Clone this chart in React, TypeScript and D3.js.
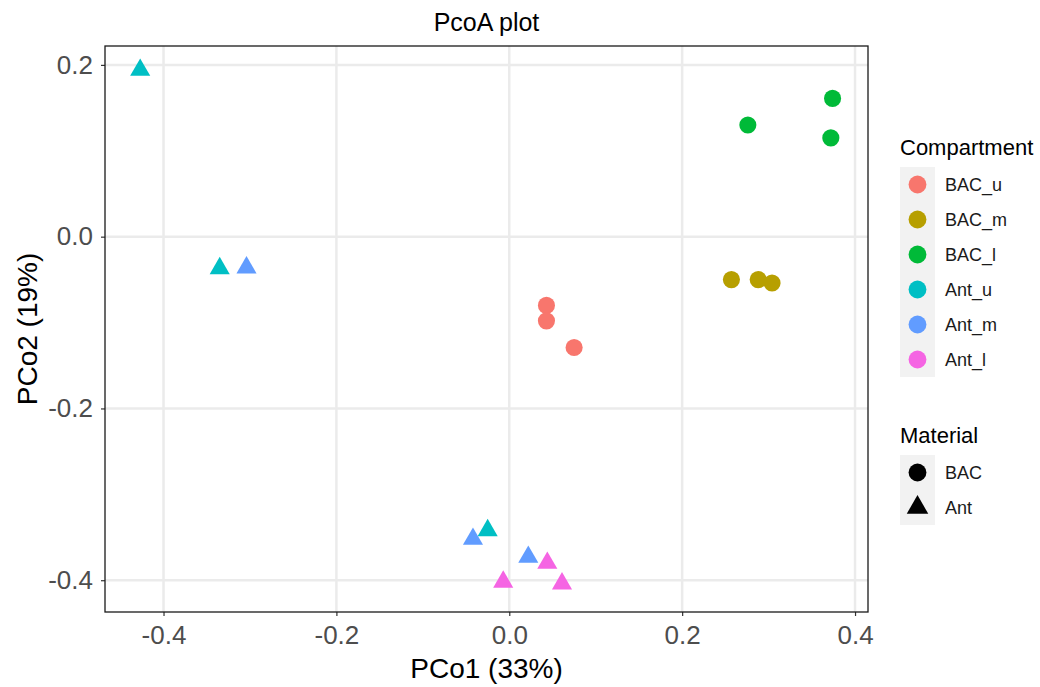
import React, { useEffect, useRef } from "react";
import * as d3 from "d3";

const groups = ["BAC_u", "BAC_m", "BAC_l", "Ant_u", "Ant_m", "Ant_l"];
const groupColors = ["#F8766D", "#B79F00", "#00BA38", "#00BFC4", "#619CFF", "#F564E3"];
const materials = ["BAC", "Ant"];

// one entry per sample: group, PCo1, PCo2
const sampleGroup = [
  "BAC_u", "BAC_u", "BAC_u",
  "BAC_m", "BAC_m", "BAC_m",
  "BAC_l", "BAC_l", "BAC_l",
  "Ant_u", "Ant_u", "Ant_u",
  "Ant_m", "Ant_m", "Ant_m",
  "Ant_l", "Ant_l", "Ant_l",
];
const pco1 = [
  0.043, 0.043, 0.075,
  0.257, 0.288, 0.304,
  0.374, 0.276, 0.372,
  -0.427, -0.335, -0.025,
  -0.304, -0.042, 0.022,
  0.044, -0.007, 0.061,
];
const pco2 = [
  -0.080, -0.098, -0.129,
  -0.050, -0.050, -0.054,
  0.161, 0.130, 0.115,
  0.194, -0.037, -0.342,
  -0.036, -0.352, -0.373,
  -0.380, -0.402, -0.404,
];
const xTicks = [-0.4, -0.2, 0.0, 0.2, 0.4];
const yTicks = [0.2, 0.0, -0.2, -0.4];

const W = 1040;
const H = 687;

const PcoaPlot = () => {
  const svgRef = useRef<SVGSVGElement>(null);

  useEffect(() => {
    const svg = d3.select(svgRef.current);
    svg.selectAll("*").remove();
    const font = "Liberation Sans, Arial, sans-serif";

    const panel = { left: 105, right: 868, top: 46, bottom: 612 };

    const x = d3.scaleLinear().domain([-0.4677, 0.415]).range([panel.left, panel.right]);
    const y = d3.scaleLinear().domain([0.222, -0.437]).range([panel.top, panel.bottom]);
    const color = d3.scaleOrdinal<string, string>().domain(groups).range(groupColors);
    const shape = (g: string) => (g.startsWith("BAC") ? "BAC" : "Ant");

    svg.append("rect").attr("width", W).attr("height", H).attr("fill", "#fff");

    // gridlines
    const grid = svg.append("g");
    grid
      .selectAll(".gx")
      .data(xTicks)
      .enter()
      .append("line")
      .attr("x1", (d) => x(d))
      .attr("x2", (d) => x(d))
      .attr("y1", panel.top)
      .attr("y2", panel.bottom)
      .attr("stroke", "#EBEBEB")
      .attr("stroke-width", 2.5);
    grid
      .selectAll(".gy")
      .data(yTicks)
      .enter()
      .append("line")
      .attr("y1", (d) => y(d))
      .attr("y2", (d) => y(d))
      .attr("x1", panel.left)
      .attr("x2", panel.right)
      .attr("stroke", "#EBEBEB")
      .attr("stroke-width", 2.5);

    // axes
    const xAxis = svg
      .append("g")
      .attr("transform", `translate(0,${panel.bottom})`)
      .call(d3.axisBottom(x).tickValues(xTicks).tickSize(4).tickPadding(8).tickFormat(d3.format(".1f")));
    const yAxis = svg
      .append("g")
      .attr("transform", `translate(${panel.left},0)`)
      .call(d3.axisLeft(y).tickValues(yTicks).tickSize(4).tickPadding(8).tickFormat(d3.format(".1f")));
    [xAxis, yAxis].forEach((a) => {
      a.select(".domain").remove();
      a.selectAll(".tick line").attr("stroke", "#333").attr("stroke-width", 1.2);
      a.selectAll(".tick text")
        .attr("fill", "#4D4D4D")
        .style("font-family", font)
        .style("font-size", "26px");
    });
    xAxis.selectAll(".tick text").attr("dy", "0.75em");
    // d3 uses a real minus sign; keep the hyphen like the reference
    svg.selectAll(".tick text").text((d: any) => d3.format(".1f")(d).replace("−", "-"));

    // panel border
    svg
      .append("rect")
      .attr("x", panel.left)
      .attr("y", panel.top)
      .attr("width", panel.right - panel.left)
      .attr("height", panel.bottom - panel.top)
      .attr("fill", "none")
      .attr("stroke", "#1a1a1a")
      .attr("stroke-width", 1.3);

    // points
    const circle = d3.symbol().type(d3.symbolCircle).size(230);
    const tri = d3.symbol().type(d3.symbolTriangle).size(175);
    svg
      .append("g")
      .selectAll("path")
      .data(sampleGroup.map((g, i) => ({ g, x: pco1[i], y: pco2[i] })))
      .enter()
      .append("path")
      .attr("transform", (d) => `translate(${x(d.x)},${y(d.y)})`)
      .attr("d", (d) => (shape(d.g) === "BAC" ? circle() : tri()))
      .attr("fill", (d) => color(d.g));

    // titles
    svg
      .append("text")
      .attr("x", (panel.left + panel.right) / 2)
      .attr("y", 31)
      .attr("text-anchor", "middle")
      .style("font-family", font)
      .style("font-size", "25px")
      .text("PcoA plot");
    svg
      .append("text")
      .attr("x", (panel.left + panel.right) / 2)
      .attr("y", 678)
      .attr("text-anchor", "middle")
      .style("font-family", font)
      .style("font-size", "28px")
      .text("PCo1 (33%)");
    svg
      .append("text")
      .attr("transform", `translate(37,${(panel.top + panel.bottom) / 2}) rotate(-90)`)
      .attr("text-anchor", "middle")
      .style("font-family", font)
      .style("font-size", "28px")
      .text("PCo2 (19%)");

    // legends
    const lx = 900;
    const keyW = 35;
    const keyH = 35;
    const leg1 = svg.append("g").attr("transform", `translate(${lx},0)`);
    leg1
      .append("text")
      .attr("x", 0)
      .attr("y", 155)
      .style("font-family", font)
      .style("font-size", "22px")
      .text("Compartment");
    leg1
      .append("rect")
      .attr("y", 167)
      .attr("width", keyW)
      .attr("height", keyH * groups.length)
      .attr("fill", "#F2F2F2");
    const circleKey = d3.symbol().type(d3.symbolCircle).size(250);
    groups.forEach((g, i) => {
      const cy = 167 + keyH * i + keyH / 2;
      leg1
        .append("path")
        .attr("transform", `translate(${keyW / 2},${cy})`)
        .attr("d", circleKey())
        .attr("fill", color(g));
      leg1
        .append("text")
        .attr("x", 45)
        .attr("y", cy)
        .attr("dy", "0.35em")
        .style("font-family", font)
        .style("font-size", "18px")
        .attr("fill", "#1a1a1a")
        .text(g);
    });

    const leg2 = svg.append("g").attr("transform", `translate(${lx},0)`);
    leg2
      .append("text")
      .attr("y", 443)
      .style("font-family", font)
      .style("font-size", "22px")
      .text("Material");
    leg2
      .append("rect")
      .attr("y", 455)
      .attr("width", keyW)
      .attr("height", keyH * materials.length)
      .attr("fill", "#F2F2F2");
    const triKey = d3.symbol().type(d3.symbolTriangle).size(200);
    materials.forEach((m, i) => {
      const cy = 455 + keyH * i + keyH / 2;
      leg2
        .append("path")
        .attr("transform", `translate(${keyW / 2},${cy})`)
        .attr("d", m === "BAC" ? circleKey() : triKey())
        .attr("fill", "#000");
      leg2
        .append("text")
        .attr("x", 45)
        .attr("y", cy)
        .attr("dy", "0.35em")
        .style("font-family", font)
        .style("font-size", "18px")
        .attr("fill", "#1a1a1a")
        .text(m);
    });
  }, []);

  return (
    <svg
      ref={svgRef}
      width={W}
      height={H}
      style={{ position: "absolute", left: 0, top: 0, display: "block" }}
    ></svg>
  );
};

export default function App() {
  return <PcoaPlot />;
}
